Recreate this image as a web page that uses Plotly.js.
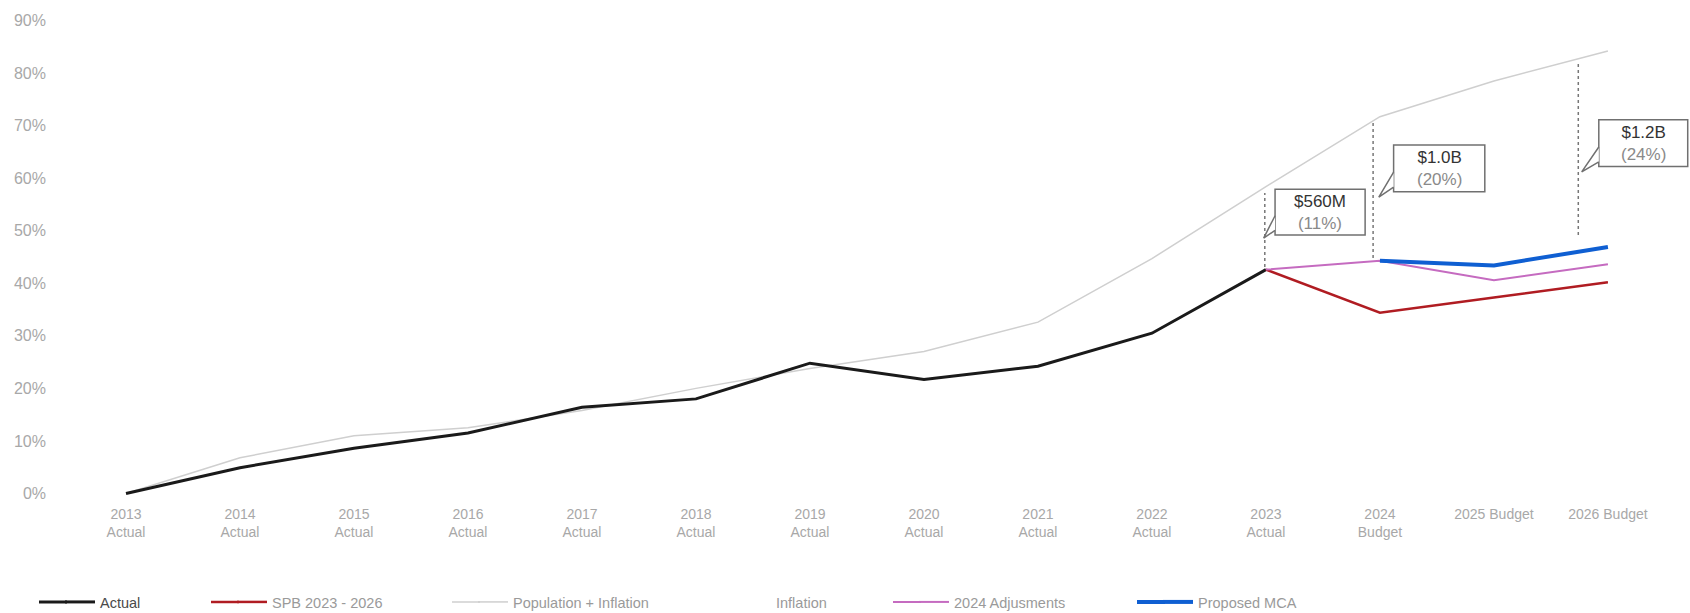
<!DOCTYPE html>
<html><head><meta charset="utf-8">
<script src="https://cdn.plot.ly/plotly-3.0.1.min.js"></script>
<style>html,body{margin:0;padding:0;background:#fff}#chart{width:1690px;height:613px}</style>
</head><body><div id="chart"></div>
<script>
const categories = ['2013<br>Actual','2014<br>Actual','2015<br>Actual','2016<br>Actual','2017<br>Actual','2018<br>Actual','2019<br>Actual','2020<br>Actual','2021<br>Actual','2022<br>Actual','2023<br>Actual','2024<br>Budget','2025 Budget','2026 Budget'];
const actual = [0, 4.9, 8.6, 11.5, 16.4, 18.0, 24.8, 21.7, 24.2, 30.5, 42.6, null, null, null];
const spb2023_2026 = [null, null, null, null, null, null, null, null, null, null, 42.6, 34.4, 37.3, 40.2];
const populationInflation = [0, 6.8, 11.0, 12.5, 15.8, 20.0, 23.8, 27.0, 32.6, 44.7, 58.4, 71.7, 78.5, 84.2];
const inflation = [null];
const adjustments2024 = [null, null, null, null, null, null, null, null, null, null, 42.6, 44.3, 40.6, 43.6];
const proposedMCA = [null, null, null, null, null, null, null, null, null, null, null, 44.3, 43.4, 46.9];
const yTickVals = [0, 10, 20, 30, 40, 50, 60, 70, 80, 90];
const yTickText = ['0%', '10%', '20%', '30%', '40%', '50%', '60%', '70%', '80%', '90%'];
const calloutAmounts = ['$560M', '$1.0B', '$1.2B'];
const calloutShares = ['(11%)', '(20%)', '(24%)'];

// callout geometry (axis units: category index, percent)
const calloutGeom = [
  {lx: 9.99, ly0: 43.1, ly1: 57.2, bx0: 10.08, bx1: 10.87, by0: 49.2, by1: 57.9, tx: 9.98, ty: 48.6},
  {lx: 10.94, ly0: 44.8, ly1: 71.0, bx0: 11.12, bx1: 11.92, by0: 57.4, by1: 66.3, tx: 10.99, ty: 56.4},
  {lx: 12.74, ly0: 49.2, ly1: 82.2, bx0: 12.92, bx1: 13.70, by0: 62.2, by1: 71.1, tx: 12.77, ty: 61.2}
];

const FONT = '"Liberation Sans", Arial, sans-serif';
const legendGray = '#9a9a9a';
const W = 1690, H = 613;
const M = {l: 69, r: 0, t: 10, b: 109};
const legendTextX = [100, 272, 513, 776, 954, 1198]; // px where each legend label starts
const legendY = 602;

const seriesStyle = [
  {key: 'pop', color: '#cfcfcf', width: 1.5, lg: 2},
  {key: 'act', color: '#1a1a1a', width: 3, lg: 0},
  {key: 'inf', color: '#ffffff', width: 2, lg: 3},
  {key: 'spb', color: '#b01c22', width: 2.5, lg: 1},
  {key: 'adj', color: '#c56bc0', width: 2, lg: 4},
  {key: 'mca', color: '#0f5fd2', width: 4, lg: 5}
];
const legendIds = ['legend', 'legend2', 'legend3', 'legend4', 'legend5', 'legend6'];

const traces = [
  {x: categories, y: populationInflation, name: 'Population + Inflation'},
  {x: categories, y: actual, name: '<span style="color:#4a4a4a">Actual</span>'},
  {x: [null], y: inflation, name: 'Inflation'},
  {x: categories, y: spb2023_2026, name: 'SPB 2023 - 2026'},
  {x: categories, y: adjustments2024, name: '2024 Adjusments'},
  {x: categories, y: proposedMCA, name: 'Proposed MCA'}
].map((t, i) => Object.assign(t, {
  mode: 'lines', line: {color: seriesStyle[i].color, width: seriesStyle[i].width},
  legend: legendIds[seriesStyle[i].lg]
}));

const shapes = [];
const annotations = [];
calloutGeom.forEach((g, i) => {
  shapes.push({type: 'line', xref: 'x', yref: 'y', x0: g.lx, x1: g.lx, y0: g.ly0, y1: g.ly1,
    line: {color: '#777', width: 1.5, dash: 'dot'}});
  shapes.push({type: 'rect', xref: 'x', yref: 'y', x0: g.bx0, x1: g.bx1, y0: g.by0, y1: g.by1,
    line: {color: '#707070', width: 1.5}, fillcolor: '#ffffff'});
  const h = g.by1 - g.by0;
  shapes.push({type: 'path', xref: 'x', yref: 'y',
    path: 'M ' + g.bx0 + ',' + (g.by0 + 0.42 * h) + ' L ' + g.tx + ',' + g.ty + ' L ' + g.bx0 + ',' + (g.by0 + 0.1 * h),
    line: {color: '#707070', width: 1.5}, fillcolor: '#ffffff'});
  annotations.push({xref: 'x', yref: 'y', x: (g.bx0 + g.bx1) / 2, y: (g.by0 + g.by1) / 2,
    text: calloutAmounts[i] + '<br><span style="color:#8a8a8a">' + calloutShares[i] + '</span>',
    showarrow: false, font: {family: FONT, size: 17, color: '#333'}, align: 'center'});
});

// legend layouts + longer legend line swatches
const pw = W - M.l - M.r, ph = H - M.t - M.b;
const layout = {
  width: W, height: H,
  margin: M,
  paper_bgcolor: '#ffffff', plot_bgcolor: '#ffffff',
  font: {family: FONT},
  xaxis: {type: 'category', range: [-0.5, 13.72], showgrid: false, zeroline: false, showline: false,
    ticks: '', tickfont: {family: FONT, size: 14, color: '#a8a8a8'}, tickangle: 0},
  yaxis: {range: [-2, 92], tickvals: yTickVals, ticktext: yTickText, showgrid: false, zeroline: false,
    showline: false, ticks: '', ticklabelstandoff: 22, tickfont: {family: FONT, size: 16, color: '#a8a8a8'}},
  showlegend: true,
  shapes: shapes,
  annotations: annotations
};
legendIds.forEach((id, k) => {
  layout[id] = {orientation: 'h', xref: 'container', yref: 'container',
    x: (legendTextX[k] - 40) / W, y: (H - legendY) / H, xanchor: 'left', yanchor: 'middle',
    font: {family: FONT, size: 14.5, color: legendGray}, bgcolor: 'rgba(0,0,0,0)'};
});
seriesStyle.forEach(s => {
  if (s.key === 'inf') return;
  const tx = legendTextX[s.lg];
  shapes.push({type: 'line', xref: 'paper', yref: 'paper',
    x0: (tx - 61 - M.l) / pw, x1: (tx - 33 - M.l) / pw,
    y0: (H - M.b - legendY) / ph, y1: (H - M.b - legendY) / ph,
    line: {color: s.color, width: s.width}});
});

Plotly.newPlot('chart', traces, layout, {displayModeBar: false, staticPlot: true});
</script>
</body></html>
